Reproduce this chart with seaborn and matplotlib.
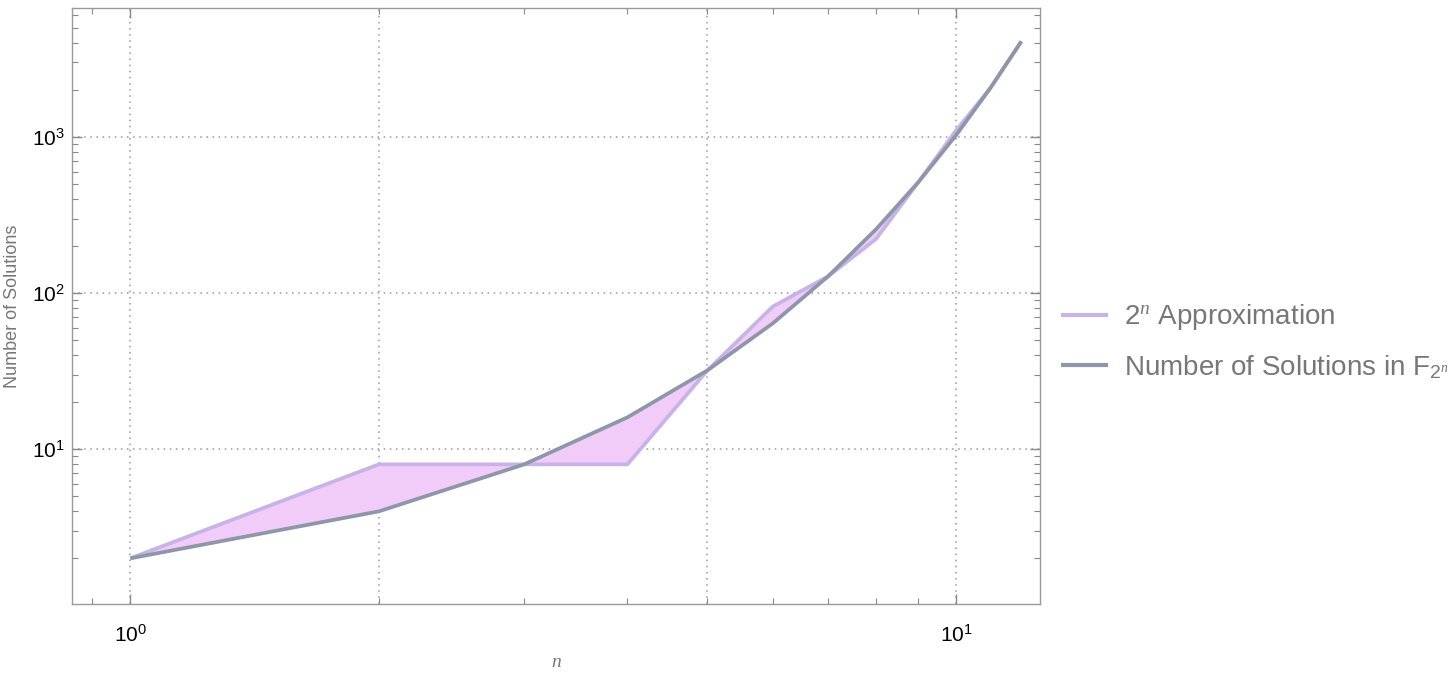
import numpy as np
import pandas as pd
import seaborn as sns
from matplotlib import pyplot as plt
from matplotlib.ticker import LogLocator, NullFormatter, LogFormatterMathtext

# data
n_values = [1, 2, 3, 4, 5, 6, 7, 8, 9, 10, 11, 12]
approx_values = [2, 8, 8, 8, 32, 82, 128, 222, 512, 1100, 2048, 4096]
solution_values = [2, 4, 8, 16, 32, 64, 128, 256, 512, 1024, 2048, 4096]
series_names = ['$2^{n}$ Approximation', 'Number of Solutions in F$_{2^{n}}$']
grid_x = [1, 2, 5, 10]
grid_y = [10, 100, 1000]

df = pd.DataFrame({
    'n': n_values * 2,
    'value': approx_values + solution_values,
    'series': [series_names[0]] * len(n_values) + [series_names[1]] * len(n_values),
})

sns.set_theme(style='ticks')
plt.rcParams['font.family'] = ['Liberation Sans', 'DejaVu Sans']
plt.rcParams['mathtext.fontset'] = 'custom'
plt.rcParams['mathtext.rm'] = 'Liberation Sans'
plt.rcParams['mathtext.it'] = 'Liberation Serif:italic'

fig = plt.figure(figsize=(14.56, 6.83), dpi=100)
ax = fig.add_axes([72 / 1456, 79 / 683, 968 / 1456, 596 / 683])

# shaded area between the two curves
ax.fill_between(n_values, approx_values, solution_values,
                color='#f2ccf8', linewidth=0, zorder=1)

sns.lineplot(data=df, x='n', y='value', hue='series',
             palette=['#c6b4e8', '#8e96aa'],
             linewidth=2.7, ax=ax, zorder=3)
for line in ax.get_lines():
    line.set_solid_capstyle('butt')

ax.set_xscale('log')
ax.set_yscale('log')
ax.set_xlim(0.85, 12.64)
ax.set_ylim(1.02, 6700)

for gx in grid_x:
    ax.axvline(gx, color='#999999', linestyle=(0, (1, 3)), linewidth=1.1, zorder=0)
for gy in grid_y:
    ax.axhline(gy, color='#999999', linestyle=(0, (1, 3)), linewidth=1.1, zorder=0)

ax.xaxis.set_major_locator(LogLocator(base=10, numticks=10))
ax.xaxis.set_minor_locator(LogLocator(base=10, subs=np.arange(2, 10), numticks=10))
ax.yaxis.set_major_locator(LogLocator(base=10, numticks=10))
ax.yaxis.set_minor_locator(LogLocator(base=10, subs=np.arange(2, 10), numticks=10))
ax.xaxis.set_major_formatter(LogFormatterMathtext())
ax.yaxis.set_major_formatter(LogFormatterMathtext())
ax.xaxis.set_minor_formatter(NullFormatter())
ax.yaxis.set_minor_formatter(NullFormatter())

ax.tick_params(which='both', direction='in', top=True, right=True,
               color='#888888', labelsize=15, labelcolor='black')
ax.tick_params(which='major', length=7, width=1)
ax.tick_params(which='minor', length=4, width=0.8)
ax.tick_params(axis='x', which='major', pad=14)
ax.tick_params(axis='y', which='major', pad=5)
for side in ax.spines.values():
    side.set_color('#999999')
    side.set_linewidth(1)

ax.set_xlabel('n', fontfamily='Liberation Serif', style='italic',
              color='#777777', fontsize=14, labelpad=6)
ax.set_ylabel('Number of Solutions', color='#777777', fontsize=13, labelpad=8)

handles, labels = ax.get_legend_handles_labels()
leg = ax.legend(handles, labels, loc='center left', bbox_to_anchor=(0.996, 0.44),
                frameon=False, fontsize=20, handlelength=1.7, handletextpad=0.55,
                labelspacing=0.75)
for text in leg.get_texts():
    text.set_color('#777777')
for h in leg.get_lines():
    h.set_linewidth(3)

fig.savefig('out.png', dpi=100)
